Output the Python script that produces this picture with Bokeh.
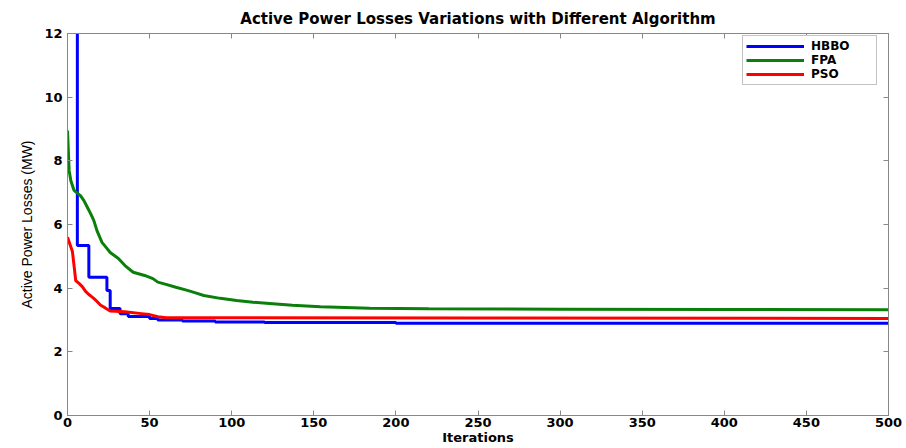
from bokeh.plotting import figure
from bokeh.models import LinearAxis, Legend, LegendItem, FixedTicker, Range1d, CustomJSTickFormatter
from bokeh.embed import file_html
from bokeh.resources import INLINE

# ---- data ----
hbbo_iter = [0, 6, 13, 24, 26, 32, 37, 50, 55, 70, 90, 120, 200, 500]
hbbo_loss = [14.5, 5.34, 4.34, 3.93, 3.36, 3.20, 3.11, 3.05, 3.00, 2.97, 2.94, 2.92, 2.90, 2.90]

fpa_iter = [0, 1, 2, 4, 8, 10, 12, 14, 16, 18, 21, 24, 26, 31, 35, 40, 47, 52, 55, 60,
            66, 73, 78, 83, 93, 103, 113, 123, 137, 154, 184, 220, 300, 400, 500]
fpa_loss = [8.95, 7.70, 7.38, 7.07, 6.90, 6.75, 6.55, 6.35, 6.13, 5.80, 5.44, 5.25, 5.12,
            4.93, 4.71, 4.50, 4.40, 4.30, 4.19, 4.12, 4.03, 3.93, 3.85, 3.77, 3.68, 3.61,
            3.56, 3.52, 3.46, 3.42, 3.37, 3.35, 3.34, 3.33, 3.32]

pso_iter = [0, 1, 2, 3, 4, 5, 7, 9, 11, 13, 16, 18, 20, 23, 26, 35, 45, 50, 55, 60, 100, 250, 500]
pso_loss = [5.60, 5.45, 5.30, 5.15, 4.70, 4.24, 4.15, 4.05, 3.90, 3.80, 3.68, 3.58, 3.47,
            3.38, 3.28, 3.26, 3.20, 3.17, 3.10, 3.07, 3.07, 3.06, 3.05]

x_ticks = [0, 50, 100, 150, 200, 250, 300, 350, 400, 450, 500]
y_ticks = [0, 2, 4, 6, 8, 10, 12]

title_text = "Active Power Losses Variations with Different Algorithm"
x_label = "Iterations"
y_label = "Active Power Losses (MW)"

BLUE = "#0000ff"
GREEN = "#0a800a"
RED = "#ff0000"
GRAY = "#888888"
BOLD_FONT = "DejaVu Sans"

p = figure(width=906, height=448, x_range=Range1d(0, 500), y_range=Range1d(0, 12),
           output_backend="svg", toolbar_location=None,
           min_border_left=67, min_border_right=18, min_border_top=33, min_border_bottom=33,
           title=title_text)

p.title.align = "center"
p.title.text_font = BOLD_FONT
p.title.text_font_style = "bold"
p.title.text_font_size = "15px"
p.title.text_color = "black"
p.title.standoff = 11
p.title.offset = 0

p.xgrid.visible = False
p.ygrid.visible = False
p.outline_line_color = GRAY
p.background_fill_color = "white"
p.border_fill_color = "white"

for ax, ticks in ((p.xaxis[0], x_ticks), (p.yaxis[0], y_ticks)):
    ax.ticker = FixedTicker(ticks=ticks)
    ax.major_tick_in = 5
    ax.major_tick_out = 0
    ax.minor_tick_line_color = None
    ax.major_tick_line_color = GRAY
    ax.axis_line_color = GRAY
    ax.major_label_text_font = BOLD_FONT
    ax.major_label_text_font_style = "bold"
    ax.major_label_text_font_size = "13px"
    ax.major_label_text_color = "black"
    ax.axis_label_text_color = "black"

p.xaxis.axis_label = x_label
p.xaxis.axis_label_text_font = BOLD_FONT
p.xaxis.axis_label_text_font_style = "bold"
p.xaxis.axis_label_text_font_size = "13px"
p.xaxis.major_label_standoff = 2
p.xaxis.axis_label_standoff = 0

p.yaxis.axis_label = y_label
p.yaxis.axis_label_text_font = "Liberation Sans"
p.yaxis.axis_label_text_font_style = "normal"
p.yaxis.axis_label_text_font_size = "14px"
p.yaxis.major_label_standoff = 5
p.yaxis.axis_label_standoff = 6

# mirrored tick marks on top and right (no labels)
blank = CustomJSTickFormatter(code="return ''")
top_ax = LinearAxis(ticker=FixedTicker(ticks=x_ticks), formatter=blank,
                    major_label_standoff=0, major_tick_in=5, major_tick_out=0,
                    minor_tick_line_color=None, major_tick_line_color=GRAY,
                    axis_line_color=GRAY)
right_ax = LinearAxis(ticker=FixedTicker(ticks=y_ticks), formatter=blank,
                      major_label_standoff=0, major_tick_in=5, major_tick_out=0,
                      minor_tick_line_color=None, major_tick_line_color=GRAY,
                      axis_line_color=GRAY)
p.add_layout(top_ax, "above")
p.add_layout(right_ax, "right")

r_hbbo = p.step(hbbo_iter, hbbo_loss, mode="after", line_width=3, line_color=BLUE)
r_fpa = p.line(fpa_iter, fpa_loss, line_width=3, line_color=GREEN)
r_pso = p.line(pso_iter, pso_loss, line_width=3, line_color=RED)

legend = Legend(items=[LegendItem(label="HBBO", renderers=[r_hbbo]),
                       LegendItem(label="FPA", renderers=[r_fpa]),
                       LegendItem(label="PSO", renderers=[r_pso])],
                location=(675, 330))
legend.label_text_font = BOLD_FONT
legend.label_text_font_style = "bold"
legend.label_text_font_size = "12px"
legend.label_text_color = "black"
legend.glyph_width = 58
legend.glyph_height = 12
legend.label_height = 12
legend.label_width = 62
legend.label_standoff = 7
legend.padding = 3
legend.spacing = 0
legend.margin = 0
legend.border_line_color = GRAY
legend.border_line_width = 1
legend.background_fill_color = "white"
legend.background_fill_alpha = 1.0
p.add_layout(legend)

open("out.html", "w").write(file_html(p, INLINE))
